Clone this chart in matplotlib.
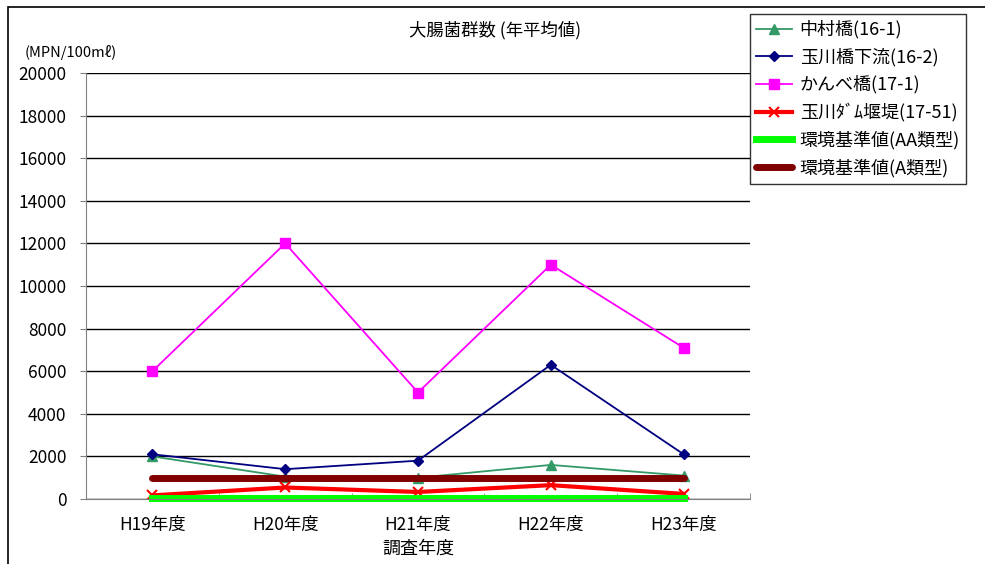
import matplotlib
matplotlib.use("Agg")
import matplotlib.pyplot as plt
from matplotlib.patches import Rectangle
import numpy as np

plt.rcParams["font.family"] = ["Noto Sans CJK JP", "DejaVu Sans"]

# survey years
years = ["H19年度", "H20年度", "H21年度", "H22年度", "H23年度"]

# coliform counts (MPN/100ml), annual mean
nakamura = [2000, 1050, 1000, 1600, 1100]
tamagawa_down = [2100, 1400, 1800, 6300, 2100]
kanbe = [6000, 12000, 5000, 11000, 7100]
tamagawa_dam = [170, 540, 330, 650, 240]
std_aa = [50, 50, 50, 50, 50]
std_a = [1000, 1000, 1000, 1000, 1000]

fig = plt.figure(figsize=(9.85, 5.64), dpi=100)
ax = fig.add_axes([86 / 985, 1 - 499 / 564, 664 / 985, 426 / 564])

x = np.arange(len(years))
ax.plot(x, nakamura, color="#339966", lw=1.3, marker="^", ms=7,
        label="中村橋(16-1)")
ax.plot(x, tamagawa_down, color="#000080", lw=1.3, marker="D", ms=5.5,
        label="玉川橋下流(16-2)")
ax.plot(x, kanbe, color="#FF00FF", lw=1.3, marker="s", ms=7,
        label="かんべ橋(17-1)")
ax.plot(x, tamagawa_dam, color="#FF0000", lw=3, marker="x", ms=7, mew=1.5,
        label="玉川ﾀﾞﾑ堰堤(17-51)")
ax.plot(x, std_aa, color="#00FF00", lw=5, clip_on=False,
        label="環境基準値(AA類型)")
ax.plot(x, std_a, color="#800000", lw=5, solid_capstyle="round",
        label="環境基準値(A類型)")

ax.set_xlim(-0.5, len(years) - 0.5)
ax.set_ylim(0, 20000)
ax.set_yticks(np.arange(0, 20001, 2000))
ax.set_xticks(x)
ax.set_xticklabels(years)
ax.set_xticks(np.arange(-0.5, len(years), 1), minor=True)
ax.tick_params(axis="x", which="major", length=0, pad=12, labelsize=12.5)
ax.tick_params(axis="x", which="minor", length=4, direction="in", color="#808080")
ax.tick_params(axis="y", length=4, color="#808080", labelsize=12.5, pad=10)
ax.yaxis.grid(True, color="black", lw=1)
ax.set_axisbelow(True)
for s in ["top", "right"]:
    ax.spines[s].set_visible(False)
for s in ["left", "bottom"]:
    ax.spines[s].set_color("#808080")
ax.set_xlabel("調査年度", fontsize=13, labelpad=4)

fig.text(0.503, 1 - 30 / 564, "大腸菌群数 (年平均値)", ha="center", va="center",
         fontsize=12.5)
fig.text(25 / 985, 1 - 52 / 564, "(MPN/100mℓ)", ha="left", va="center",
         fontsize=10.5)

leg = fig.legend(loc="upper left", bbox_to_anchor=(750 / 985, 1 - 14 / 564),
                 fontsize=13, frameon=True, fancybox=False, handlelength=2,
                 borderpad=0.35, labelspacing=0.5, handletextpad=0.4,
                 borderaxespad=0)
leg.get_frame().set_edgecolor("black")
leg.get_frame().set_linewidth(1)

# outer chart border
fig.patches.append(Rectangle((8 / 985, -0.05), 1.0, 1 - 7 / 564 + 0.05,
                             transform=fig.transFigure, fill=False,
                             edgecolor="black", lw=1.2))

fig.savefig("out.png", dpi=100)
